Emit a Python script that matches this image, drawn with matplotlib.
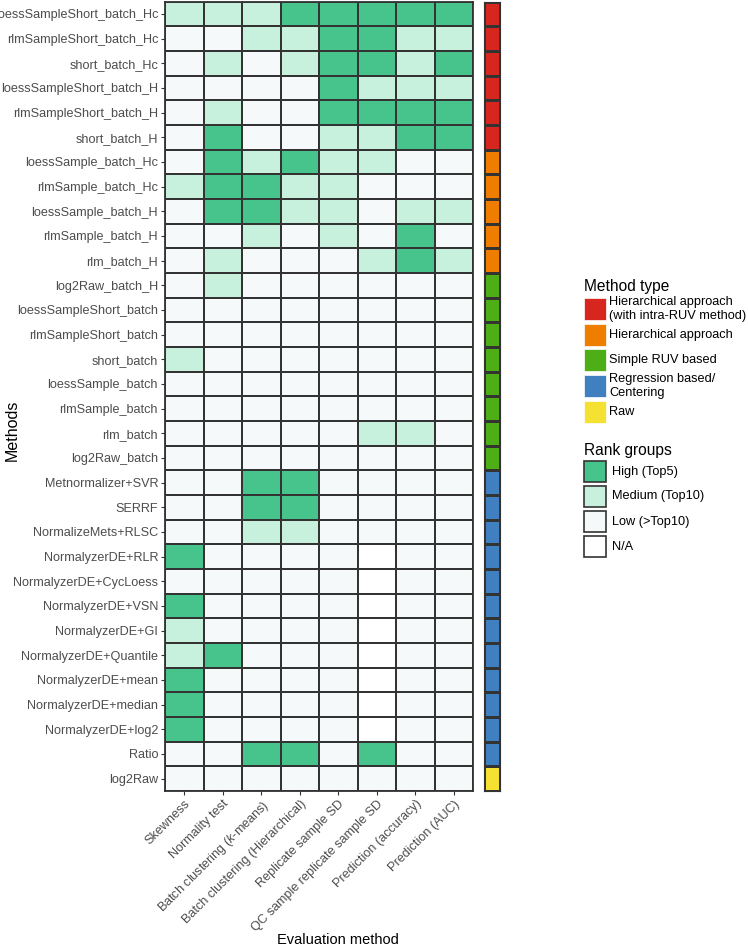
import numpy as np
import matplotlib
matplotlib.use("Agg")
import matplotlib.pyplot as plt
from matplotlib.colors import ListedColormap, BoundaryNorm
from matplotlib.patches import Rectangle

plt.rcParams['font.family'] = ['Liberation Sans', 'DejaVu Sans']
plt.rcParams['mathtext.fontset'] = 'custom'
plt.rcParams['mathtext.it'] = 'Liberation Sans:italic'
plt.rcParams['mathtext.rm'] = 'Liberation Sans'

methods = [
    "loessSampleShort_batch_Hc", "rlmSampleShort_batch_Hc", "short_batch_Hc",
    "loessSampleShort_batch_H", "rlmSampleShort_batch_H", "short_batch_H",
    "loessSample_batch_Hc", "rlmSample_batch_Hc", "loessSample_batch_H",
    "rlmSample_batch_H", "rlm_batch_H", "log2Raw_batch_H",
    "loessSampleShort_batch", "rlmSampleShort_batch", "short_batch",
    "loessSample_batch", "rlmSample_batch", "rlm_batch", "log2Raw_batch",
    "Metnormalizer+SVR", "SERRF", "NormalizeMets+RLSC",
    "NormalyzerDE+RLR", "NormalyzerDE+CycLoess", "NormalyzerDE+VSN",
    "NormalyzerDE+GI", "NormalyzerDE+Quantile", "NormalyzerDE+mean",
    "NormalyzerDE+median", "NormalyzerDE+log2", "Ratio", "log2Raw",
]

evaluations = [
    "Skewness", "Normality test", "Batch clustering ($\\it{k}$-means)",
    "Batch clustering (Hierarchical)", "Replicate sample SD",
    "QC sample replicate sample SD", "Prediction (accuracy)", "Prediction (AUC)",
]

# H = High (Top5), M = Medium (Top10), L = Low (>Top10), N = N/A
rank_codes = [
    "MMMHHHHH", "LLMMHHMM", "LMLMHHMH", "LLLLHMMM", "LMLLHHHH", "LHLLMMHH",
    "LHMHMMLL", "MHHMMLLL", "LHHMMLMM", "LLMLMLHL", "LMLLLMHM", "LMLLLLLL",
    "LLLLLLLL", "LLLLLLLL", "MLLLLLLL", "LLLLLLLL", "LLLLLLLL", "LLLLLMML",
    "LLLLLLLL", "LLHHLLLL", "LLHHLLLL", "LLMMLLLL",
    "HLLLLNLL", "LLLLLNLL", "HLLLLNLL", "MLLLLNLL", "MHLLLNLL", "HLLLLNLL",
    "HLLLLNLL", "HLLLLNLL", "LLHHLHLL", "LLLLLLLL",
]

method_types = (["Hierarchical approach\n(with intra-RUV method)"] * 6
                + ["Hierarchical approach"] * 5
                + ["Simple RUV based"] * 8
                + ["Regression based/\nCentering"] * 12
                + ["Raw"] * 1)

type_names = ["Hierarchical approach\n(with intra-RUV method)", "Hierarchical approach",
              "Simple RUV based", "Regression based/\nCentering", "Raw"]
type_colors = ["#D7261E", "#EE7D00", "#4DAE16", "#4080C0", "#F5E132"]

rank_names = ["High (Top5)", "Medium (Top10)", "Low (>Top10)", "N/A"]
rank_keys = ["H", "M", "L", "N"]
rank_colors = ["#46C48C", "#C8F1DD", "#F5F9FA", "#FFFFFF"]

W, H = 748, 948
fig = plt.figure(figsize=(W / 100, H / 100), dpi=100)

def fx(px):
    return px / W

def fy(py):
    return 1 - py / H

top_px, bot_px = 1.5, 791
ax = fig.add_axes([fx(165), fy(bot_px), fx(473 - 165), (bot_px - top_px) / H])

nrow, ncol = len(methods), len(evaluations)
mat = np.array([[rank_keys.index(c) for c in row] for row in rank_codes])
cmap = ListedColormap(rank_colors)
norm = BoundaryNorm(np.arange(-0.5, 4.5, 1), cmap.N)
ax.pcolormesh(np.arange(ncol + 1), np.arange(nrow + 1), mat, cmap=cmap, norm=norm,
              edgecolors="#333333", linewidth=1.3)
ax.set_xlim(0, ncol)
ax.set_ylim(nrow, 0)
ax.set_yticks(np.arange(nrow) + 0.5)
ax.set_yticklabels(methods, fontsize=9.1, color="#4D4D4D")
ax.set_xticks(np.arange(ncol) + 0.5)
ax.set_xticklabels(evaluations, fontsize=9.1, color="#4D4D4D", rotation=45,
                   ha="right", va="top", rotation_mode="anchor")
ax.tick_params(axis="both", length=3, width=0.8, color="#333333", pad=2)
for s in ax.spines.values():
    s.set_color("#333333")
    s.set_linewidth(1.3)

# method type strip
ax2 = fig.add_axes([fx(484), fy(bot_px), fx(500 - 484), (bot_px - top_px) / H])
tmat = np.array([[type_names.index(t)] for t in method_types])
tcmap = ListedColormap(type_colors)
tnorm = BoundaryNorm(np.arange(-0.5, 5.5, 1), tcmap.N)
ax2.pcolormesh(np.arange(2), np.arange(nrow + 1), tmat, cmap=tcmap, norm=tnorm,
               edgecolors="#333333", linewidth=0.8)
ax2.set_xlim(0, 1)
ax2.set_ylim(nrow, 0)
ax2.set_xticks([])
ax2.set_yticks([])
for s in ax2.spines.values():
    s.set_color("#333333")
    s.set_linewidth(0.8)

# axis titles
fig.text(fx(12), fy(430), "Methods", rotation=90, ha="center", va="center",
         fontsize=11.5, color="black")
fig.text(fx(338), fy(940), "Evaluation method", ha="center", va="center",
         fontsize=10.5, color="black")

# legends
fig.text(fx(584), fy(286), "Method type", ha="left", va="center", fontsize=11.2, color="black")
type_y = [298, 324, 349, 375, 401]
for name, col, y0 in zip(type_names, type_colors, type_y):
    fig.patches.append(Rectangle((fx(584), fy(y0 + 22)), fx(22), 22 / H,
                                 transform=fig.transFigure, facecolor=col,
                                 edgecolor="white", linewidth=0.5))
    fig.text(fx(609), fy(y0 + 11), name, ha="left", va="center", fontsize=9.2,
             color="black", linespacing=1.15)

fig.text(fx(584), fy(450), "Rank groups", ha="left", va="center", fontsize=11.2, color="black")
rank_y = [461, 486, 511, 536]
for name, col, y0 in zip(rank_names, rank_colors, rank_y):
    fig.patches.append(Rectangle((fx(584), fy(y0 + 21)), fx(22), 21 / H,
                                 transform=fig.transFigure, facecolor=col,
                                 edgecolor="#333333", linewidth=1.2))
    fig.text(fx(612), fy(y0 + 10.5), name, ha="left", va="center", fontsize=9.2,
             color="black")

fig.savefig("out.png", dpi=100)
